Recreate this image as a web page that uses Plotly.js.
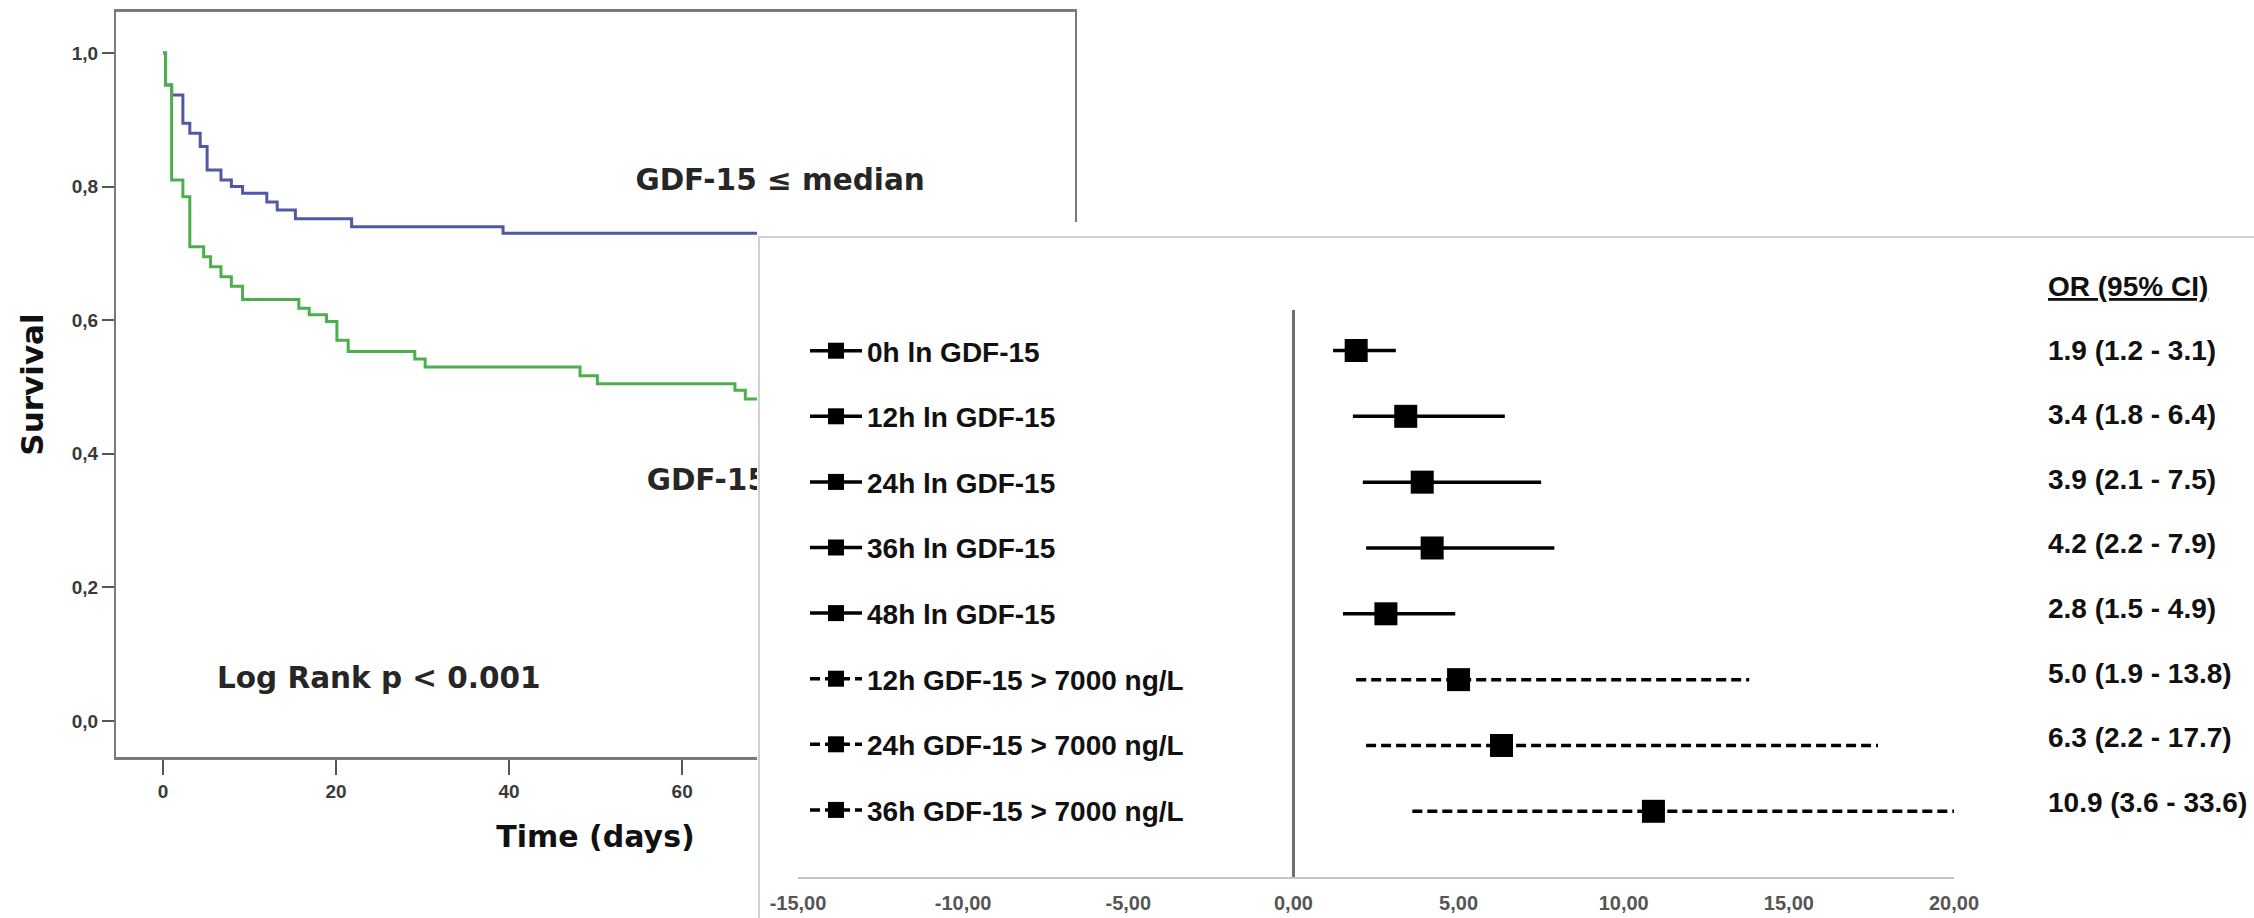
<!DOCTYPE html>
<html>
<head>
<meta charset="utf-8">
<script src="https://cdn.plot.ly/plotly-3.0.1.min.js"></script>
<style>
  html, body { margin: 0; padding: 0; background: #fff; }
  #chart { width: 2254px; height: 918px; }
</style>
</head>
<body>
<div id="chart"></div>
<script>
// Kaplan–Meier survival, split at the GDF-15 median
const kmLowDays  = [0, 0.3, 1.0, 2.3, 3.1, 4.3, 5.1, 6.7, 7.9, 9.2, 12.0, 13.2, 15.3, 21.8, 39.3, 70];
const kmLowSurv  = [1.0, 0.952, 0.937, 0.895, 0.880, 0.860, 0.825, 0.810, 0.800, 0.790, 0.777, 0.765, 0.752, 0.740, 0.730, 0.730];
const kmHighDays = [0, 0.3, 1.0, 2.3, 3.1, 4.7, 5.5, 6.7, 7.9, 9.2, 15.7, 16.9, 18.9, 20.1, 21.4, 29.1, 30.3, 48.2, 50.2, 66.1, 67.3, 70];
const kmHighSurv = [1.0, 0.952, 0.810, 0.785, 0.710, 0.695, 0.680, 0.665, 0.651, 0.631, 0.618, 0.608, 0.598, 0.570, 0.553, 0.542, 0.530, 0.517, 0.505, 0.495, 0.482, 0.482];
const groupLabels = ['GDF-15 \u2264 median', 'GDF-15 > median'];

const dayTicks = [0, 20, 40, 60];
const dayTickLabels = ['0', '20', '40', '60'];
const survTicks = [0, 0.2, 0.4, 0.6, 0.8, 1.0];
const survTickLabels = ['0,0', '0,2', '0,4', '0,6', '0,8', '1,0'];

// Odds ratios with 95% confidence intervals
const predictors = [
  '0h ln GDF-15', '12h ln GDF-15', '24h ln GDF-15', '36h ln GDF-15', '48h ln GDF-15',
  '12h GDF-15 > 7000 ng/L', '24h GDF-15 > 7000 ng/L', '36h GDF-15 > 7000 ng/L'
];
const orValues = [1.9, 3.4, 3.9, 4.2, 2.8, 5.0, 6.3, 10.9];
const ciLower  = [1.2, 1.8, 2.1, 2.2, 1.5, 1.9, 2.2, 3.6];
const ciUpper  = [3.1, 6.4, 7.5, 7.9, 4.9, 13.8, 17.7, 33.6];
const dichotomized = [false, false, false, false, false, true, true, true];
const orTicks = [-15, -10, -5, 0, 5, 10, 15, 20];
const orTickLabels = ['-15,00', '-10,00', '-5,00', '0,00', '5,00', '10,00', '15,00', '20,00'];

// page geometry helpers (pixels -> paper fractions)
const W = 2254, H = 918;
const px = v => v / W;
const py = v => 1 - v / H;

const ARIAL = 'Liberation Sans, Arial, sans-serif';
const WIDE = 'DejaVu Sans, Verdana, sans-serif';

const data = [
  {
    type: 'scatter', mode: 'lines', x: kmLowDays, y: kmLowSurv,
    line: { shape: 'hv', color: '#5059a6', width: 3 },
    xaxis: 'x', yaxis: 'y', showlegend: false, hoverinfo: 'skip'
  },
  {
    type: 'scatter', mode: 'lines', x: kmHighDays, y: kmHighSurv,
    line: { shape: 'hv', color: '#4cae4c', width: 3 },
    xaxis: 'x', yaxis: 'y', showlegend: false, hoverinfo: 'skip'
  },
  {
    // group captions live in the survival panel so the forest sheet can overlap them
    type: 'scatter', mode: 'text', x: [54.6, 55.9], y: [0.806, 0.357],
    text: groupLabels, textposition: 'middle right',
    textfont: { family: WIDE, size: 29.5, weight: 'bold', color: '#262626' },
    xaxis: 'x', yaxis: 'y', showlegend: false, hoverinfo: 'skip'
  },
  {
    // empty trace that registers the white sheet subplot
    type: 'scatter', mode: 'none', x: [null], y: [null],
    xaxis: 'x2', yaxis: 'y2', showlegend: false, hoverinfo: 'skip'
  }
];

predictors.forEach((name, i) => {
  data.push({
    type: 'scatter', mode: 'lines+markers', name: name, legendgroup: 'row' + i,
    // point estimate first, then the interval as a separate segment
    x: [orValues[i], null, ciLower[i], ciUpper[i]],
    y: [name, null, name, name],
    connectgaps: false,
    line: { color: '#000', width: 3.5, dash: dichotomized[i] ? '10px,5px' : 'solid' },
    marker: {
      symbol: 'square', size: 23,
      color: ['#000', '#000', 'rgba(0,0,0,0)', 'rgba(0,0,0,0)'],
      line: { width: 0 }
    },
    xaxis: 'x3', yaxis: 'y3', hoverinfo: 'skip'
  });
});

const annotations = [
  {
    xref: 'x', yref: 'y', x: 6.0, y: 0.064, xanchor: 'left', yanchor: 'middle',
    text: 'Log Rank p &lt; 0.001', showarrow: false,
    font: { family: WIDE, size: 29.5, weight: 'bold', color: '#262626' }
  },
  {
    xref: 'paper', yref: 'paper', x: px(2046), y: py(287), xanchor: 'left', yanchor: 'middle',
    text: '<u>OR (95% CI)</u>', showarrow: false,
    font: { family: ARIAL, size: 28, weight: 'bold', color: '#111' }
  }
];
predictors.forEach((name, i) => {
  annotations.push({
    xref: 'paper', yref: 'paper', x: px(2046), y: py(350 + i * 64.6),
    xanchor: 'left', yanchor: 'middle', showarrow: false,
    text: orValues[i].toFixed(1) + ' (' + ciLower[i].toFixed(1) + ' - ' + ciUpper[i].toFixed(1) + ')',
    font: { family: ARIAL, size: 28, weight: 'bold', color: '#111' }
  });
});

const layout = {
  width: W, height: H,
  margin: { l: 0, r: 0, t: 0, b: 0 },
  paper_bgcolor: '#fff', plot_bgcolor: '#fff',
  showlegend: true,
  legend: {
    x: px(805), y: py(326), xanchor: 'left', yanchor: 'top',
    bgcolor: 'rgba(0,0,0,0)', borderwidth: 0,
    font: { family: ARIAL, size: 28, weight: 'bold', color: '#111' },
    tracegroupgap: 26.2, itemwidth: 52, itemclick: false, itemdoubleclick: false
  },
  // survival panel
  xaxis: {
    domain: [px(116), px(1075)], range: [-5.43, 105.4], anchor: 'y',
    tickvals: dayTicks, ticktext: dayTickLabels,
    ticks: 'outside', ticklen: 15, tickwidth: 2, tickcolor: '#555',
    tickfont: { family: ARIAL, size: 19, weight: 'bold', color: '#3a3a3a' },
    showline: true, mirror: true, linecolor: '#7a7a7a', linewidth: 3,
    showgrid: false, zeroline: false,
    title: { text: 'Time (days)', standoff: 26, font: { family: WIDE, size: 30, weight: 'bold', color: '#111' } }
  },
  yaxis: {
    domain: [py(757), py(12)], range: [-0.0539, 1.0614], anchor: 'x',
    tickvals: survTicks, ticktext: survTickLabels,
    ticks: 'outside', ticklen: 12, tickwidth: 2, tickcolor: '#555',
    tickfont: { family: ARIAL, size: 19, weight: 'bold', color: '#3a3a3a' },
    showline: true, mirror: true, linecolor: '#7a7a7a', linewidth: 2,
    showgrid: false, zeroline: false,
    title: { text: 'Survival', standoff: 19, font: { family: WIDE, size: 31, weight: 'bold', color: '#111' } }
  },
  // white sheet carrying the forest plot
  xaxis2: { domain: [px(757), 1], range: [0, 1], anchor: 'y2', visible: false },
  yaxis2: { domain: [0, py(222)], range: [0, 1], anchor: 'x2', visible: false },
  // forest plot
  xaxis3: {
    domain: [px(798), px(1954)], range: [-15, 20], anchor: 'y3',
    tickvals: orTicks, ticktext: orTickLabels, ticks: '', ticklabelstandoff: 7,
    tickfont: { family: ARIAL, size: 20, weight: 'bold', color: '#555' },
    showline: true, linecolor: '#c4c4c4', linewidth: 2,
    showgrid: false, zeroline: true, zerolinecolor: '#6f6f6f', zerolinewidth: 3
  },
  yaxis3: {
    domain: [py(877), py(310)], anchor: 'x3', type: 'category',
    categoryorder: 'array', categoryarray: predictors, range: [7.998, -0.615],
    showticklabels: false, showline: false, showgrid: false, zeroline: false, ticks: ''
  },
  shapes: [
    { type: 'line', xref: 'paper', yref: 'paper', x0: px(758), x1: 1, y0: py(237), y1: py(237),
      line: { color: '#d0d0d0', width: 2 }, layer: 'above' },
    { type: 'line', xref: 'paper', yref: 'paper', x0: px(759), x1: px(759), y0: py(237), y1: 0,
      line: { color: '#d0d0d0', width: 2 }, layer: 'above' }
  ],
  annotations: annotations
};

Plotly.newPlot('chart', data, layout, { displayModeBar: false, staticPlot: true });
</script>
</body>
</html>
